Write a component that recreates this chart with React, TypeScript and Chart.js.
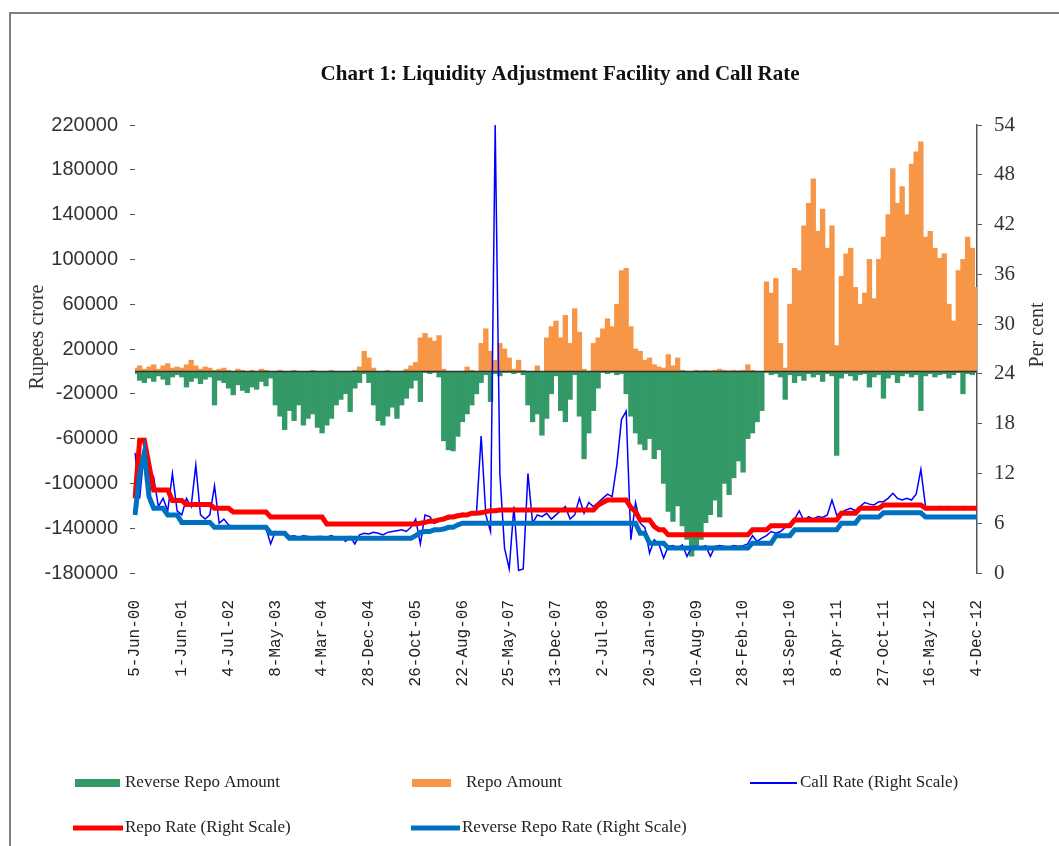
import React, { useEffect, useRef } from 'react';
import { Chart, registerables } from 'chart.js';

Chart.register(...registerables);

// X-axis tick labels (one every 10 observations)
const tickLabels = [
  '5-Jun-00', '1-Jun-01', '4-Jul-02', '8-May-03', '4-Mar-04', '28-Dec-04', '26-Oct-05',
  '22-Aug-06', '25-May-07', '13-Dec-07', '2-Jul-08', '20-Jan-09', '10-Aug-09', '28-Feb-10',
  '18-Sep-10', '8-Apr-11', '27-Oct-11', '16-May-12', '4-Dec-12',
];

// Rupees crore (left scale)
const reverseRepoAmount = [
  -2000, -8000, -10000, -6000, -9000, -4000, -7000, -12000, -5000, -3000,
  -5000, -14000, -9000, -6000, -11000, -7000, -5000, -30000, -8000, -10000,
  -15000, -21000, -12000, -17000, -19000, -14000, -16000, -9000, -13000, -6000,
  -30000, -40000, -52000, -35000, -44000, -30000, -48000, -42000, -38000, -50000,
  -55000, -48000, -42000, -30000, -25000, -20000, -36000, -15000, -10000, -2000,
  -10000, -30000, -44000, -48000, -40000, -32000, -42000, -30000, -24000, -15000,
  -8000, -27000, -1000, -2000, -1000, -5000, -62000, -70000, -71000, -58000,
  -45000, -38000, -30000, -20000, -10000, -3000, -27000, -2000, -4000, -1000,
  -1000, -2000, -1000, -3000, -30000, -45000, -38000, -57000, -42000, -20000,
  -4000, -35000, -45000, -25000, -3000, -40000, -78000, -55000, -35000, -15000,
  -1000, -2000, -1000, -3000, -2000, -20000, -40000, -55000, -65000, -70000,
  -60000, -78000, -70000, -100000, -125000, -134000, -120000, -138000, -150000, -165000,
  -158000, -150000, -135000, -128000, -115000, -130000, -100000, -110000, -95000, -80000,
  -90000, -60000, -55000, -45000, -35000, -1000, -3000, -2000, -5000, -25000,
  -3000, -10000, -4000, -8000, -2000, -5000, -3000, -9000, -2000, -4000,
  -75000, -6000, -2000, -4000, -8000, -3000, -2000, -14000, -5000, -3000,
  -24000, -6000, -3000, -10000, -4000, -2000, -5000, -3000, -35000, -4000,
  -2000, -5000, -3000, -2000, -6000, -3000, -1000, -20000, -2000, -3000,
  -1000,
];

const repoAmount = [
  3000, 5000, 2000, 4000, 6000, 2000, 5000, 7000, 3000, 4000,
  3000, 6000, 10000, 5000, 2000, 4000, 3000, 1000, 2000, 3000,
  1000, 0, 2000, 1000, 0, 1000, 0, 2000, 1000, 0,
  0, 1000, 0, 0, 1000, 0, 0, 0, 1000, 0,
  0, 0, 1000, 0, 0, 0, 0, 1000, 4000, 18000,
  12000, 3000, 0, 0, 1000, 0, 0, 0, 2000, 5000,
  8000, 30000, 34000, 30000, 27000, 32000, 2000, 0, 0, 0,
  0, 4000, 1000, 0, 25000, 38000, 18000, 10000, 25000, 20000,
  12000, 2000, 10000, 1000, 0, 0, 5000, 0, 30000, 40000,
  45000, 30000, 50000, 25000, 56000, 35000, 2000, 0, 25000, 30000,
  38000, 47000, 40000, 60000, 90000, 92000, 40000, 20000, 18000, 10000,
  12000, 6000, 4000, 3000, 15000, 5000, 12000, 1000, 0, 0,
  1000, 500, 1000, 500, 1000, 2000, 1000, 500, 1000, 500,
  1000, 6000, 1000, 0, 0, 80000, 70000, 83000, 25000, 3000,
  60000, 92000, 90000, 130000, 150000, 172000, 125000, 145000, 110000, 130000,
  23000, 85000, 105000, 110000, 75000, 60000, 70000, 100000, 65000, 100000,
  120000, 140000, 181000, 150000, 165000, 140000, 185000, 196000, 205000, 120000,
  125000, 110000, 101000, 105000, 60000, 45000, 90000, 100000, 120000, 110000,
  75000,
];

// Per cent (right scale)
const callRate = [
  14.5, 9.0, 15.0, 9.5, 11.5, 8.0, 9.0, 7.5, 12.0, 7.5,
  7.0, 9.0, 8.0, 13.0, 7.0, 6.5, 7.0, 10.5, 6.0, 6.5,
  5.8, 5.6, 5.7, 5.5, 5.5, 5.6, 5.4, 5.5, 5.4, 3.5,
  5.0, 4.8, 4.6, 4.4, 4.5, 4.3, 4.5, 4.4, 4.3, 4.4,
  4.4, 4.3, 4.5, 4.2, 4.4, 3.8, 4.4, 3.5, 4.6, 4.8,
  4.7, 4.9, 4.8, 4.6, 4.9, 5.0, 5.1, 5.2, 5.0, 5.5,
  6.5, 3.5, 7.0, 6.8, 6.0, 6.3, 6.5, 6.5, 6.8, 7.0,
  7.2, 7.0, 7.3, 7.2, 16.5, 7.0, 5.0, 54.0, 12.0, 3.0,
  0.5, 8.0, 0.3, 0.5, 12.0, 6.0, 7.0, 6.8, 7.2, 6.5,
  7.0, 7.5, 8.0, 6.5, 7.0, 9.0, 7.2, 8.5, 8.0, 8.5,
  9.0, 9.5, 9.2, 13.0, 18.5, 19.5, 4.0, 8.5, 6.0, 5.5,
  2.4, 4.0, 3.5, 1.8, 3.2, 3.3, 3.0, 3.4, 2.0, 3.1,
  3.2, 3.1, 3.3, 2.0, 3.2, 3.3, 3.2, 3.1, 3.3, 3.2,
  3.3, 3.5, 4.5, 3.8, 4.2, 4.5, 5.0, 4.8, 5.0, 5.5,
  6.0, 6.5, 7.5, 6.3, 6.8, 6.5, 6.8, 6.7, 7.0, 8.8,
  7.0, 7.3, 7.6, 7.8, 7.5, 8.0, 8.5, 8.3, 8.2, 8.6,
  8.6, 9.0, 9.6, 9.0, 8.8, 9.0, 8.8, 9.5, 12.5, 8.0,
  7.9, 7.8, 8.0, 7.9, 8.0, 7.8, 7.9, 8.0, 7.9, 8.0,
  8.0,
];

const repoRate = [
  9.0, 16.0, 16.0, 13.0, 10.0, 10.0, 10.0, 10.0, 8.75, 8.75,
  8.75, 8.25, 8.25, 8.25, 8.25, 8.25, 8.25, 7.8, 7.8, 7.8,
  7.8, 7.35, 7.35, 7.35, 7.35, 7.35, 7.35, 7.35, 7.35, 6.75,
  6.75, 6.75, 6.75, 6.75, 6.75, 6.75, 6.75, 6.75, 6.75, 6.75,
  6.75, 5.9, 5.9, 5.9, 5.9, 5.9, 5.9, 5.9, 5.9, 5.9,
  5.9, 5.9, 5.9, 5.9, 5.9, 5.9, 5.9, 5.9, 5.9, 5.9,
  5.9, 6.0, 6.1, 6.25, 6.25, 6.4, 6.5, 6.75, 6.75, 6.9,
  7.0, 7.0, 7.2, 7.2, 7.25, 7.4, 7.5, 7.5, 7.6, 7.6,
  7.6, 7.6, 7.6, 7.6, 7.6, 7.6, 7.6, 7.6, 7.6, 7.6,
  7.6, 7.6, 7.6, 7.6, 7.6, 7.6, 7.6, 7.6, 7.6, 8.2,
  8.5, 8.8, 8.8, 8.8, 8.8, 8.8, 7.9, 7.4, 6.4, 6.4,
  6.4, 5.6, 5.2, 5.2, 4.6, 4.6, 4.6, 4.6, 4.6, 4.6,
  4.6, 4.6, 4.6, 4.6, 4.6, 4.6, 4.6, 4.6, 4.6, 4.6,
  4.6, 4.6, 5.2, 5.2, 5.2, 5.2, 5.7, 5.7, 5.7, 5.7,
  5.7, 6.4, 6.4, 6.4, 6.4, 6.4, 6.4, 6.4, 6.4, 6.4,
  6.4, 7.2, 7.2, 7.2, 7.2, 7.8, 7.8, 7.8, 7.8, 7.8,
  8.2, 8.2, 8.2, 8.2, 8.2, 8.2, 8.2, 8.2, 8.2, 7.8,
  7.8, 7.8, 7.8, 7.8, 7.8, 7.8, 7.8, 7.8, 7.8, 7.8,
  7.8,
];

const reverseRepoRate = [
  7.0, 12.0, 14.5, 9.2, 7.8, 7.8, 7.8, 7.0, 7.0, 7.0,
  6.1, 6.1, 6.1, 6.1, 6.1, 6.1, 6.1, 5.5, 5.5, 5.5,
  5.5, 5.5, 5.5, 5.5, 5.5, 5.5, 5.5, 5.5, 5.5, 4.8,
  4.8, 4.8, 4.8, 4.2, 4.2, 4.2, 4.2, 4.2, 4.2, 4.2,
  4.2, 4.2, 4.2, 4.2, 4.2, 4.2, 4.2, 4.2, 4.2, 4.2,
  4.2, 4.2, 4.2, 4.2, 4.2, 4.2, 4.2, 4.2, 4.2, 4.2,
  4.5, 4.9, 5.0, 5.0, 5.2, 5.2, 5.3, 5.5, 5.5, 5.8,
  6.0, 6.0, 6.0, 6.0, 6.0, 6.0, 6.0, 6.0, 6.0, 6.0,
  6.0, 6.0, 6.0, 6.0, 6.0, 6.0, 6.0, 6.0, 6.0, 6.0,
  6.0, 6.0, 6.0, 6.0, 6.0, 6.0, 6.0, 6.0, 6.0, 6.0,
  6.0, 6.0, 6.0, 6.0, 6.0, 6.0, 6.0, 6.0, 4.8, 4.8,
  3.6, 3.6, 3.6, 3.6, 3.0, 3.0, 3.0, 3.0, 3.0, 3.0,
  3.0, 3.0, 3.0, 3.0, 3.0, 3.0, 3.0, 3.0, 3.0, 3.0,
  3.0, 3.0, 3.6, 3.6, 3.6, 3.6, 3.6, 4.5, 4.5, 4.5,
  4.5, 5.2, 5.2, 5.2, 5.2, 5.2, 5.2, 5.2, 5.2, 5.2,
  5.2, 6.0, 6.0, 6.0, 6.0, 6.75, 6.75, 6.75, 6.75, 6.75,
  7.25, 7.25, 7.25, 7.25, 7.25, 7.25, 7.25, 7.25, 7.25, 6.75,
  6.75, 6.75, 6.75, 6.75, 6.75, 6.75, 6.75, 6.75, 6.75, 6.75,
  6.75,
];

const POINTS_PER_LABEL = 10;
const categories = reverseRepoAmount.map((_, i) =>
  i % POINTS_PER_LABEL === 0 ? tickLabels[i / POINTS_PER_LABEL] : ''
);

const GREEN = '#339966';
const ORANGE = '#F79646';
const CALL_BLUE = '#0000FF';
const RED = '#FF0000';
const RR_BLUE = '#0070C0';

export default function App() {
  const ref = useRef<HTMLCanvasElement | null>(null);

  useEffect(() => {
    const canvas = ref.current;
    if (!canvas) return;

    const decor = {
      id: 'decor',
      beforeDraw(chart: any) {
        const ctx = chart.ctx;
        ctx.save();
        ctx.fillStyle = '#ffffff';
        ctx.fillRect(0, 0, chart.width, chart.height);
        ctx.strokeStyle = '#7f7f7f';
        ctx.lineWidth = 2;
        ctx.beginPath();
        ctx.moveTo(10, chart.height);
        ctx.lineTo(10, 13);
        ctx.lineTo(chart.width, 13);
        ctx.stroke();
        ctx.restore();
      },
      afterDatasetDraw(chart: any, args: any) {
        if (args.index !== 1) return;
        const ctx = chart.ctx;
        const { left, right } = chart.chartArea;
        const y0 = chart.scales.y.getPixelForValue(0);
        ctx.save();
        ctx.strokeStyle = '#333333';
        ctx.lineWidth = 1.5;
        ctx.beginPath();
        ctx.moveTo(left, y0);
        ctx.lineTo(right, y0);
        ctx.stroke();
        ctx.restore();
      },
      afterDraw(chart: any) {
        const ctx = chart.ctx;
        ctx.save();
        // Title
        ctx.fillStyle = '#111111';
        ctx.font = 'bold 21px "Liberation Serif"';
        ctx.textAlign = 'center';
        ctx.textBaseline = 'middle';
        ctx.fillText('Chart 1: Liquidity Adjustment Facility and Call Rate', 560, 75);

        // Axis titles
        ctx.font = '20px "Liberation Serif"';
        ctx.fillStyle = '#333333';
        ctx.save();
        ctx.translate(38, 337);
        ctx.rotate(-Math.PI / 2);
        ctx.fillText('Rupees crore', 0, 0);
        ctx.restore();
        ctx.save();
        ctx.translate(1038, 335);
        ctx.rotate(-Math.PI / 2);
        ctx.fillText('Per cent', 0, 0);
        ctx.restore();

        // Legend
        ctx.font = '17px "Liberation Serif"';
        ctx.textAlign = 'left';
        ctx.textBaseline = 'middle';
        const rect = (x1: number, x2: number, y: number, color: string) => {
          ctx.fillStyle = color;
          ctx.fillRect(x1, y - 4, x2 - x1, 8);
        };
        const line = (x1: number, x2: number, y: number, color: string, w: number) => {
          ctx.strokeStyle = color;
          ctx.lineWidth = w;
          ctx.beginPath();
          ctx.moveTo(x1, y);
          ctx.lineTo(x2, y);
          ctx.stroke();
        };
        const text = (s: string, x: number, y: number) => {
          ctx.fillStyle = '#222222';
          ctx.fillText(s, x, y);
        };
        const r1 = 783;
        const r2 = 828;
        rect(75, 120, r1, GREEN);
        text('Reverse Repo Amount', 125, r1);
        rect(412, 451, r1, ORANGE);
        text('Repo Amount', 466, r1);
        line(750, 797, r1, CALL_BLUE, 2);
        text('Call Rate (Right Scale)', 800, r1);
        line(73, 123, r2, RED, 5);
        text('Repo Rate (Right Scale)', 125, r2);
        line(411, 460, r2, RR_BLUE, 5);
        text('Reverse Repo Rate (Right Scale)', 462, r2);
        ctx.restore();
      },
    };

    const chart = new Chart(canvas, {
      type: 'bar',
      data: {
        labels: categories,
        datasets: [
          {
            type: 'bar',
            label: 'Reverse Repo Amount',
            data: reverseRepoAmount,
            backgroundColor: GREEN,
            yAxisID: 'y',
            grouped: false,
            barPercentage: 1,
            categoryPercentage: 1,
            borderWidth: 0,
            order: 10,
          } as any,
          {
            type: 'bar',
            label: 'Repo Amount',
            data: repoAmount,
            backgroundColor: ORANGE,
            yAxisID: 'y',
            grouped: false,
            barPercentage: 1,
            categoryPercentage: 1,
            borderWidth: 0,
            order: 9,
          } as any,
          {
            type: 'line',
            label: 'Call Rate (Right Scale)',
            data: callRate,
            borderColor: CALL_BLUE,
            borderWidth: 1.5,
            pointRadius: 0,
            tension: 0,
            yAxisID: 'y1',
            order: 3,
          } as any,
          {
            type: 'line',
            label: 'Repo Rate (Right Scale)',
            data: repoRate,
            borderColor: RED,
            borderWidth: 5,
            pointRadius: 0,
            tension: 0,
            yAxisID: 'y1',
            order: 2,
          } as any,
          {
            type: 'line',
            label: 'Reverse Repo Rate (Right Scale)',
            data: reverseRepoRate,
            borderColor: RR_BLUE,
            borderWidth: 5,
            pointRadius: 0,
            tension: 0,
            yAxisID: 'y1',
            order: 1,
          } as any,
        ],
      },
      options: {
        responsive: false,
        animation: false,
        layout: { padding: { top: 125, left: 0, right: 0, bottom: 0 } },
        plugins: {
          legend: { display: false },
          title: { display: false },
          tooltip: { enabled: false },
        },
        scales: {
          x: {
            type: 'category',
            offset: false,
            grid: { display: false, drawTicks: false },
            border: { display: false },
            ticks: {
              autoSkip: false,
              minRotation: 90,
              maxRotation: 90,
              padding: 27,
              color: '#222222',
              font: { family: '"Liberation Mono"', size: 16 },
              callback: (_v: any, i: number) => (categories[i] ? categories[i] : null),
            },
            afterFit: (s: any) => {
              s.height = 273;
            },
          },
          y: {
            position: 'left',
            min: -180000,
            max: 220000,
            border: { display: false },
            grid: {
              drawOnChartArea: false,
              drawTicks: true,
              tickLength: 5,
              color: '#555555',
              tickColor: '#555555',
            },
            ticks: {
              stepSize: 40000,
              padding: 12,
              color: '#333333',
              font: { family: '"Liberation Sans"', size: 20 },
              callback: (v: any) => String(v),
            },
            afterFit: (s: any) => {
              s.width = 135;
            },
          },
          y1: {
            position: 'right',
            min: 0,
            max: 54,
            border: { display: true, color: '#555555', width: 1.5 },
            grid: {
              drawOnChartArea: false,
              drawTicks: true,
              tickLength: 5,
              color: '#555555',
              tickColor: '#555555',
            },
            ticks: {
              stepSize: 6,
              padding: 12,
              color: '#333333',
              font: { family: '"Liberation Serif"', size: 21 },
              callback: (v: any) => String(v),
            },
            afterFit: (s: any) => {
              s.width = 82;
            },
          },
        },
      } as any,
      plugins: [decor],
    });

    return () => chart.destroy();
  }, []);

  return (
    <div style={{ position: 'fixed', left: 0, top: 0, width: 1059, height: 846, background: '#ffffff' }}>
      <canvas ref={ref} width={1059} height={846} style={{ width: 1059, height: 846, display: 'block' }} />
    </div>
  );
}
